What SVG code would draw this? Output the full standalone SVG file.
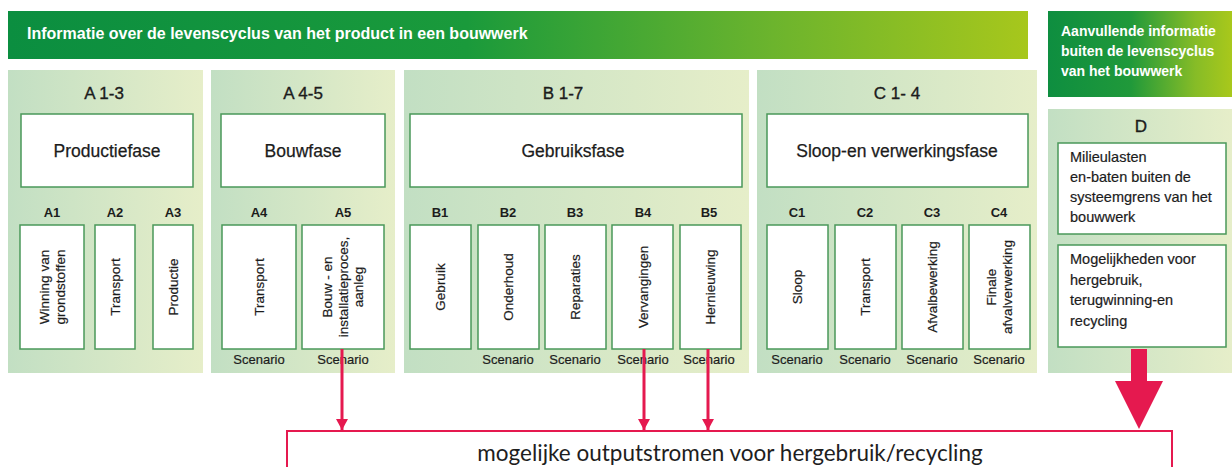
<svg xmlns="http://www.w3.org/2000/svg" width="1232" height="467" viewBox="0 0 1232 467">
<defs>
<linearGradient id="gBanner" x1="0" y1="0" x2="1" y2="0">
<stop offset="0" stop-color="#0b8e40"/>
<stop offset="0.45" stop-color="#1a9a3b"/>
<stop offset="0.75" stop-color="#6cb42d"/>
<stop offset="1" stop-color="#a7c71c"/>
</linearGradient>
<linearGradient id="gSide" x1="0" y1="0" x2="1" y2="0">
<stop offset="0" stop-color="#0e8e40"/>
<stop offset="0.45" stop-color="#20993a"/>
<stop offset="0.8" stop-color="#86bc27"/>
<stop offset="1" stop-color="#a9c81b"/>
</linearGradient>
<linearGradient id="gPanel" x1="0" y1="0" x2="1" y2="0">
<stop offset="0" stop-color="#c2dfc3"/>
<stop offset="1" stop-color="#e6eec9"/>
</linearGradient>
<marker id="ah" viewBox="0 0 11 12" refX="11" refY="6" markerWidth="11" markerHeight="12" markerUnits="userSpaceOnUse" orient="auto">
<path d="M0,0 L11,6 L0,12 Z" fill="#e5194f"/>
</marker>
<style>
.panel{fill:url(#gPanel)}
.box{fill:#ffffff;stroke:#4a985a;stroke-width:1.5}
.hd{font-family:"Liberation Sans",Arial,sans-serif;font-size:17px;fill:#1c1c1c;stroke:#1c1c1c;stroke-width:0.35;text-anchor:middle}
.ph{font-family:"Liberation Sans",Arial,sans-serif;font-size:17.5px;fill:#1c1c1c;stroke:#1c1c1c;stroke-width:0.25;text-anchor:middle}
.ml{font-family:"Liberation Sans",Arial,sans-serif;font-size:13px;font-weight:bold;fill:#1c1c1c;text-anchor:middle}
.vt{font-family:"Liberation Sans",Arial,sans-serif;font-size:13.5px;fill:#1c1c1c;stroke:#1c1c1c;stroke-width:0.2;text-anchor:middle;dominant-baseline:central}
.sc{font-family:"Liberation Sans",Arial,sans-serif;font-size:13px;fill:#1c1c1c;stroke:#1c1c1c;stroke-width:0.2;text-anchor:middle}
.dt{font-family:"Liberation Sans",Arial,sans-serif;font-size:14.5px;fill:#1c1c1c;stroke:#1c1c1c;stroke-width:0.2}
.wt{font-family:"Liberation Sans",Arial,sans-serif;font-weight:bold;fill:#ffffff}
.arr{stroke:#e5194f;stroke-width:3;fill:none}
</style>
</defs>
<rect width="1232" height="467" fill="#ffffff"/>

<g id="banner">
<rect x="8" y="11" width="1020" height="48" fill="url(#gBanner)"/>
<text class="wt" x="27" y="39" font-size="16">Informatie over de levenscyclus van het product in een bouwwerk</text>
</g>
<g id="side-banner">
<rect x="1048" y="11" width="184" height="86" fill="url(#gSide)"/>
<text class="wt" font-size="14"><tspan x="1061" y="36">Aanvullende informatie</tspan><tspan x="1061" y="56">buiten de levenscyclus</tspan><tspan x="1061" y="76">van het bouwwerk</tspan></text>
</g>

<g id="panel-A13">
<rect class="panel" x="8" y="70" width="195" height="303"/>
<text class="hd" x="104" y="99">A 1-3</text>
<rect class="box" x="21" y="114" width="172" height="73"/>
<text class="ph" x="107" y="157">Productiefase</text>
<text class="ml" x="52" y="217">A1</text>
<text class="ml" x="115" y="217">A2</text>
<text class="ml" x="173" y="217">A3</text>
<rect class="box" x="20" y="225" width="64" height="124"/>
<rect class="box" x="95" y="225" width="40" height="124"/>
<rect class="box" x="153" y="225" width="40" height="124"/>
<text class="vt" transform="translate(44,287) rotate(-90)">Winning van</text>
<text class="vt" transform="translate(60,287) rotate(-90)">grondstoffen</text>
<text class="vt" transform="translate(115,287) rotate(-90)">Transport</text>
<text class="vt" transform="translate(173,287) rotate(-90)">Productie</text>
</g>

<g id="panel-A45">
<rect class="panel" x="211" y="70" width="184" height="303"/>
<text class="hd" x="303" y="99">A 4-5</text>
<rect class="box" x="221" y="114" width="164" height="73"/>
<text class="ph" x="303" y="157">Bouwfase</text>
<text class="ml" x="259" y="217">A4</text>
<text class="ml" x="343" y="217">A5</text>
<rect class="box" x="222" y="225" width="74" height="124"/>
<rect class="box" x="302" y="225" width="82" height="124"/>
<text class="vt" transform="translate(259,287) rotate(-90)">Transport</text>
<text class="vt" transform="translate(327,287) rotate(-90)">Bouw - en</text>
<text class="vt" transform="translate(343,287) rotate(-90)">installatieproces,</text>
<text class="vt" transform="translate(358,287) rotate(-90)">aanleg</text>
<text class="sc" x="259" y="364">Scenario</text>
<text class="sc" x="343" y="364">Scenario</text>
</g>

<g id="panel-B17">
<rect class="panel" x="404" y="70" width="345" height="303"/>
<text class="hd" x="563" y="99">B 1-7</text>
<rect class="box" x="410" y="114" width="332" height="73"/>
<text class="ph" x="573" y="157">Gebruiksfase</text>
<text class="ml" x="440" y="217">B1</text>
<text class="ml" x="508" y="217">B2</text>
<text class="ml" x="575" y="217">B3</text>
<text class="ml" x="643" y="217">B4</text>
<text class="ml" x="709" y="217">B5</text>
<rect class="box" x="410" y="225" width="61" height="124"/>
<rect class="box" x="478" y="225" width="61" height="124"/>
<rect class="box" x="545" y="225" width="61" height="124"/>
<rect class="box" x="612" y="225" width="61" height="124"/>
<rect class="box" x="680" y="225" width="61" height="124"/>
<text class="vt" transform="translate(440,287) rotate(-90)">Gebruik</text>
<text class="vt" transform="translate(508,287) rotate(-90)">Onderhoud</text>
<text class="vt" transform="translate(575,287) rotate(-90)">Reparaties</text>
<text class="vt" transform="translate(643,287) rotate(-90)">Vervangingen</text>
<text class="vt" transform="translate(710,287) rotate(-90)">Hernieuwing</text>
<text class="sc" x="508" y="364">Scenario</text>
<text class="sc" x="575" y="364">Scenario</text>
<text class="sc" x="643" y="364">Scenario</text>
<text class="sc" x="709" y="364">Scenario</text>
</g>

<g id="panel-C14">
<rect class="panel" x="757" y="70" width="280" height="303"/>
<text class="hd" x="897" y="99">C 1- 4</text>
<rect class="box" x="767" y="114" width="261" height="73"/>
<text class="ph" x="897" y="157" font-size="18">Sloop-en verwerkingsfase</text>
<text class="ml" x="797" y="217">C1</text>
<text class="ml" x="865" y="217">C2</text>
<text class="ml" x="932" y="217">C3</text>
<text class="ml" x="999" y="217">C4</text>
<rect class="box" x="767" y="225" width="61" height="124"/>
<rect class="box" x="835" y="225" width="61" height="124"/>
<rect class="box" x="902" y="225" width="61" height="124"/>
<rect class="box" x="969" y="225" width="61" height="124"/>
<text class="vt" transform="translate(797,287) rotate(-90)">Sloop</text>
<text class="vt" transform="translate(865,287) rotate(-90)">Transport</text>
<text class="vt" transform="translate(932,287) rotate(-90)">Afvalbewerking</text>
<text class="vt" transform="translate(991,287) rotate(-90)">Finale</text>
<text class="vt" transform="translate(1007,287) rotate(-90)">afvalverwerking</text>
<text class="sc" x="797" y="364">Scenario</text>
<text class="sc" x="865" y="364">Scenario</text>
<text class="sc" x="932" y="364">Scenario</text>
<text class="sc" x="999" y="364">Scenario</text>
</g>

<g id="panel-D">
<rect class="panel" x="1048" y="109" width="184" height="264"/>
<text class="hd" x="1141" y="132">D</text>
<rect class="box" x="1058" y="143" width="168" height="91"/>
<text class="dt"><tspan x="1070" y="162">Milieulasten</tspan><tspan x="1070" y="182">en-baten buiten de</tspan><tspan x="1070" y="202">systeemgrens van het</tspan><tspan x="1070" y="222">bouwwerk</tspan></text>
<rect class="box" x="1058" y="245" width="168" height="102"/>
<text class="dt"><tspan x="1070" y="264">Mogelijkheden voor</tspan><tspan x="1070" y="285">hergebruik,</tspan><tspan x="1070" y="305">terugwinning-en</tspan><tspan x="1070" y="326">recycling</tspan></text>
</g>

<g id="output">
<rect x="287" y="431" width="885" height="50" fill="#ffffff" stroke="#e5194f" stroke-width="2"/>
<text x="730" y="461" font-family="Lato,'Open Sans',sans-serif" font-size="22.5" fill="#1e1e1e" text-anchor="middle">mogelijke outputstromen voor hergebruik/recycling</text>
</g>

<g id="connectors">
<line class="arr" x1="342" y1="349" x2="342" y2="430" marker-end="url(#ah)"/>
<line class="arr" x1="644" y1="349" x2="644" y2="430" marker-end="url(#ah)"/>
<line class="arr" x1="708" y1="349" x2="708" y2="430" marker-end="url(#ah)"/>
<path d="M1131,349 L1147,349 L1147,381 L1163,381 L1139,429 L1115,381 L1131,381 Z" fill="#e5194f"/>
</g>
</svg>
